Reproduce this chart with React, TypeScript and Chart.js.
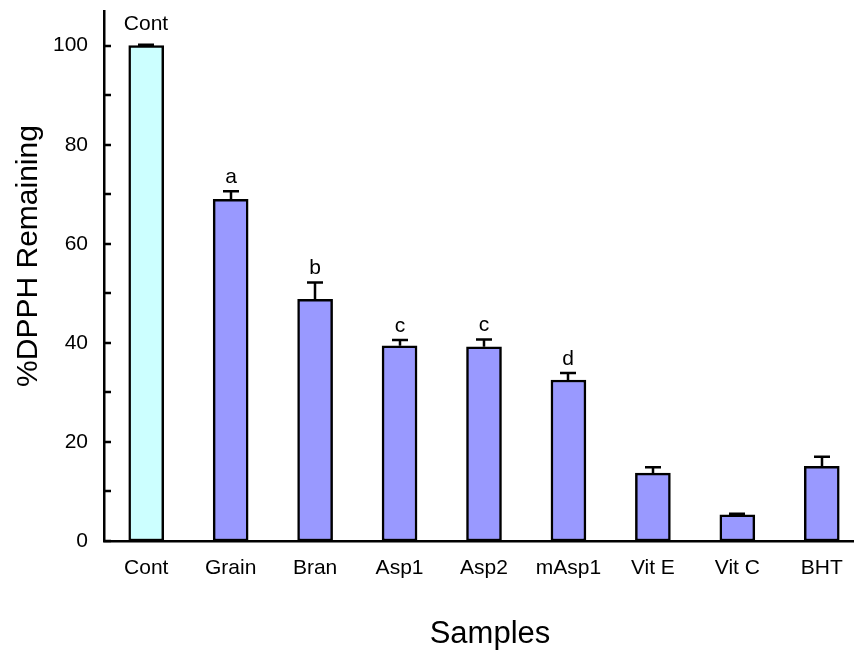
import React, { useEffect, useRef } from "react";
import { Chart, registerables } from "chart.js";

Chart.register(...registerables);

// Samples and their % DPPH remaining (mean ± error)
const categories = ["Cont", "Grain", "Bran", "Asp1", "Asp2", "mAsp1", "Vit E", "Vit C", "BHT"];
const remaining = [100, 69.0, 48.8, 39.4, 39.2, 32.5, 13.7, 5.3, 15.1];
const errors = [0.2, 1.6, 3.4, 1.2, 1.5, 1.4, 1.2, 0.2, 1.9];
// Significance grouping letters drawn above the error bars
const groupLetters = ["Cont", "a", "b", "c", "c", "d", "", "", ""];
const majorTicks = [0, 20, 40, 60, 80, 100];
const minorTicks = [10, 30, 50, 70, 90];

const FONT = "'Liberation Sans', Arial, sans-serif";
const CONTROL_COLOR = "#CCFFFF";
const SAMPLE_COLOR = "#9999FF";

const overlay = {
  id: "overlay",
  afterDatasetsDraw(chart: any) {
    const { ctx, chartArea } = chart;
    const y = chart.scales.y;
    const meta = chart.getDatasetMeta(0);
    ctx.save();
    ctx.strokeStyle = "#000";
    ctx.fillStyle = "#000";
    ctx.lineWidth = 2.5;
    ctx.font = `21px ${FONT}`;
    ctx.textAlign = "center";
    ctx.textBaseline = "alphabetic";
    meta.data.forEach((bar: any, i: number) => {
      const x = Math.round(bar.x);
      const top = y.getPixelForValue(remaining[i]);
      const tip = y.getPixelForValue(remaining[i] + errors[i]);
      ctx.beginPath();
      ctx.moveTo(x, top);
      ctx.lineTo(x, tip);
      ctx.moveTo(x - 8, tip);
      ctx.lineTo(x + 8, tip);
      ctx.stroke();
      if (groupLetters[i]) {
        ctx.fillText(groupLetters[i], x, tip - (i === 0 ? 15 : 8));
      }
    });

    // inward tick marks on the value axis
    const left = chartArea.left;
    ctx.beginPath();
    [...majorTicks, ...minorTicks].forEach((v) => {
      const py = Math.round(y.getPixelForValue(v));
      ctx.moveTo(left, py);
      ctx.lineTo(left + 7, py);
    });
    ctx.stroke();

    // axis titles
    ctx.font = `31px ${FONT}`;
    ctx.fillText("Samples", (chartArea.left + chartArea.right) / 2 + 6, chartArea.bottom + 102);

    ctx.translate(29, (chartArea.top + chartArea.bottom) / 2 - 20);
    ctx.rotate(-Math.PI / 2);
    ctx.font = `30px ${FONT}`;
    ctx.textBaseline = "middle";
    ctx.fillText("%DPPH Remaining", 0, 0);
    ctx.restore();
  },
};

export default function App() {
  const canvasRef = useRef<HTMLCanvasElement | null>(null);

  useEffect(() => {
    if (!canvasRef.current) return;
    const chart = new Chart(canvasRef.current, {
      type: "bar",
      data: {
        labels: categories,
        datasets: [
          {
            data: remaining,
            backgroundColor: categories.map((_, i) => (i === 0 ? CONTROL_COLOR : SAMPLE_COLOR)),
            borderColor: "#000",
            borderWidth: 2.5,
            barThickness: 35,
            borderSkipped: false,
          },
        ],
      },
      options: {
        responsive: false,
        animation: false,
        layout: { padding: { top: 11, left: 0, right: 0, bottom: 0 } },
        plugins: {
          legend: { display: false },
          tooltip: { enabled: false },
        },
        scales: {
          x: {
            offset: true,
            grid: { display: false, drawTicks: false },
            border: { display: true, color: "#000", width: 2.5 },
            ticks: {
              color: "#000",
              font: { family: FONT, size: 21 },
              padding: 15,
              maxRotation: 0,
              autoSkip: false,
            },
            afterFit: (scale: any) => {
              scale.height = 110;
              scale.paddingLeft = 0;
              scale.paddingRight = 0;
            },
          },
          y: {
            min: 0,
            max: 107,
            grid: { display: false, drawTicks: false },
            border: { display: true, color: "#000", width: 2.5 },
            ticks: {
              stepSize: 20,
              includeBounds: false,
              color: "#000",
              font: { family: FONT, size: 21 },
              padding: 16,
            },
            afterFit: (scale: any) => {
              scale.width = 104;
              scale.paddingTop = 0;
              scale.paddingBottom = 0;
            },
          },
        },
      },
      plugins: [overlay],
    });
    return () => chart.destroy();
  }, []);

  return (
    <div
      style={{
        position: "absolute",
        left: 0,
        top: 0,
        width: 854,
        height: 651,
        overflow: "hidden",
        background: "#fff",
      }}
    >
      <canvas ref={canvasRef} width={864} height={651} style={{ display: "block" }} />
    </div>
  );
}
